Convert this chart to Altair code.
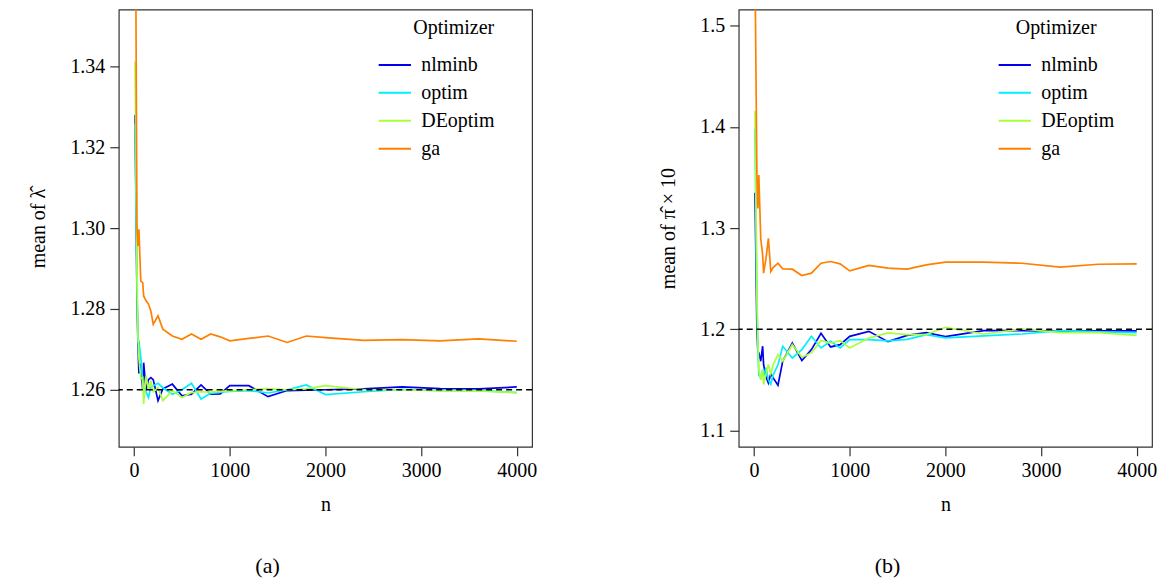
import altair as alt
import pandas as pd

optimizers = ["nlminb", "optim", "DEoptim", "ga"]
colors = ["#0000EE", "#00EEFF", "#A8FF3C", "#FF7F00"]

n = [10, 30, 40, 50, 70, 90, 100, 125, 150, 175, 200, 250, 300, 400, 500, 600, 700,
     800, 900, 1000, 1200, 1400, 1600, 1800, 2000, 2400, 2800, 3200, 3600, 4000]

# panel (a): mean of lambda-hat
lam_nlminb = [1.328, 1.283, 1.272, 1.2640, 1.2665, 1.2600, 1.2667, 1.2598, 1.2625, 1.2630,
              1.2625, 1.2573, 1.2602, 1.2614, 1.2585, 1.2589, 1.2612, 1.2589, 1.2590, 1.2610,
              1.2610, 1.2583, 1.2598, 1.2599, 1.2600, 1.2602, 1.2607, 1.2603, 1.2602, 1.2607]
lam_optim = [1.3257, 1.285, 1.272, 1.2721, 1.2680, 1.2620, 1.2600, 1.2595, 1.2581, 1.2606,
             1.2610, 1.2616, 1.2605, 1.2589, 1.2600, 1.2616, 1.2577, 1.2591, 1.2594, 1.2596,
             1.2598, 1.2592, 1.2600, 1.2612, 1.2588, 1.2595, 1.2601, 1.2598, 1.2598, 1.2593]
lam_deoptim = [1.3412, 1.290, 1.2738, 1.2680, 1.2627, 1.2630, 1.2565, 1.2635, 1.2600, 1.2620,
               1.2595, 1.2605, 1.2573, 1.2598, 1.2581, 1.2593, 1.2595, 1.2594, 1.2596, 1.2597,
               1.2600, 1.2603, 1.2600, 1.2602, 1.2610, 1.2600, 1.2600, 1.2598, 1.2597, 1.2593]
lam_ga = [1.40, 1.300, 1.2956, 1.2997, 1.2869, 1.2865, 1.2832, 1.2820, 1.2812, 1.2795,
          1.2762, 1.2783, 1.2750, 1.2733, 1.2725, 1.2738, 1.2725, 1.2738, 1.2731, 1.2721,
          1.2727, 1.2733, 1.2717, 1.2733, 1.2729, 1.2722, 1.2724, 1.2721, 1.2726, 1.2720]

# panel (b): mean of pi-hat x 10
pi_nlminb = [1.335, 1.200, 1.1783, 1.1767, 1.1685, 1.1833, 1.1650, 1.1530, 1.1470, 1.1560,
             1.1520, 1.1448, 1.1685, 1.1865, 1.1692, 1.1800, 1.1960, 1.1826, 1.1849, 1.1931,
             1.1980, 1.1878, 1.1940, 1.1967, 1.1928, 1.1987, 1.1987, 1.1982, 1.1985, 1.1985]
pi_optim = [1.398, 1.230, 1.180, 1.1550, 1.1520, 1.1600, 1.1540, 1.1620, 1.1500, 1.1458,
            1.1550, 1.1650, 1.1833, 1.1717, 1.1800, 1.1931, 1.1816, 1.1882, 1.1816, 1.1898,
            1.1898, 1.1885, 1.1900, 1.1948, 1.1915, 1.1935, 1.1954, 1.1987, 1.1974, 1.1967]
pi_deoptim = [1.416, 1.2342, 1.1900, 1.1600, 1.1500, 1.1600, 1.1455, 1.1560, 1.1652, 1.1560,
              1.1650, 1.1750, 1.1685, 1.1849, 1.1724, 1.1767, 1.1889, 1.1865, 1.1889, 1.1816,
              1.1915, 1.1964, 1.1948, 1.1948, 1.2020, 1.1954, 1.2003, 1.1967, 1.1967, 1.1941]
pi_ga = [1.56, 1.3524, 1.3195, 1.3524, 1.2900, 1.2736, 1.2555, 1.2700, 1.2900, 1.2571,
         1.2610, 1.2653, 1.2598, 1.2594, 1.2532, 1.2555, 1.2653, 1.2670, 1.2647, 1.2578,
         1.2631, 1.2604, 1.2594, 1.2637, 1.2663, 1.2663, 1.2653, 1.2614, 1.2643, 1.2647]

lam_true = [1.26]
pi_true = [1.2]

FONT = "'Liberation Serif', 'Times New Roman', Times, serif"


def long_df(series):
    rows = []
    for name, vals in zip(optimizers, series):
        for i, (nn, v) in enumerate(zip(n, vals)):
            rows.append({"n": nn, "value": v, "Optimizer": name, "idx": i})
    return pd.DataFrame(rows)


def panel(series, truth, ydom, yvals, yfmt, ytitle, caption, title_anchor):
    df = long_df(series)
    x = alt.X("n:Q", scale=alt.Scale(domain=[-160, 4160], nice=False, zero=False),
              axis=alt.Axis(values=[0, 1000, 2000, 3000, 4000], format="d", title="n",
                            titlePadding=14))
    y = alt.Y("value:Q", scale=alt.Scale(domain=ydom, nice=False, zero=False),
              axis=alt.Axis(values=yvals, format=yfmt, title=ytitle, titlePadding=21))
    lines = alt.Chart(df).mark_line(strokeWidth=1.7, clip=True).encode(
        x=x, y=y,
        color=alt.Color("Optimizer:N",
                        scale=alt.Scale(domain=optimizers, range=colors),
                        sort=optimizers,
                        legend=alt.Legend(orient="none", legendX=259, legendY=9,
                                          symbolType="stroke", symbolSize=1050,
                                          symbolStrokeWidth=2, labelOffset=9,
                                          rowPadding=-8, titlePadding=9,
                                          titleAnchor=title_anchor)),
        order="idx:Q",
    )
    rule = alt.Chart(pd.DataFrame({"truth": truth})).mark_rule(
        color="black", strokeDash=[6, 4], strokeWidth=1.6).encode(y="truth:Q")
    return alt.layer(lines, rule).properties(
        width=414, height=438,
        title=alt.TitleParams(caption, orient="bottom", anchor="middle", dx=-58,
                              offset=41, fontSize=22, font=FONT, fontWeight="normal"),
    )


left = panel([lam_nlminb, lam_optim, lam_deoptim, lam_ga], lam_true,
             [1.2459, 1.3541], [1.26, 1.28, 1.30, 1.32, 1.34], ".2f",
             "mean of λ̂", "(a)", "end")
right = panel([pi_nlminb, pi_optim, pi_deoptim, pi_ga], pi_true,
              [1.084, 1.516], [1.1, 1.2, 1.3, 1.4, 1.5], ".1f",
              "mean of π̂ × 10", "(b)", "middle")

chart = alt.hconcat(left, right, spacing=207, bounds="flush").resolve_scale(
    color="independent", y="independent", x="independent"
).properties(
    padding={"left": 28, "top": 8, "right": 5, "bottom": 5},
    background="white",
).configure_view(
    stroke="#333333", strokeWidth=1.2
).configure_axis(
    domain=False, grid=False, tickColor="#333333", tickSize=9, tickWidth=1.2,
    labelFont=FONT, labelFontSize=20, labelColor="black", labelPadding=5,
    titleFont=FONT, titleFontSize=20, titleFontWeight="normal", titleColor="black",
).configure_legend(
    labelFont=FONT, labelFontSize=20, labelColor="black",
    titleFont=FONT, titleFontSize=20, titleFontWeight="normal", titleColor="black",
)

chart.save("out.html", embed_options={"renderer": "svg", "actions": False})
